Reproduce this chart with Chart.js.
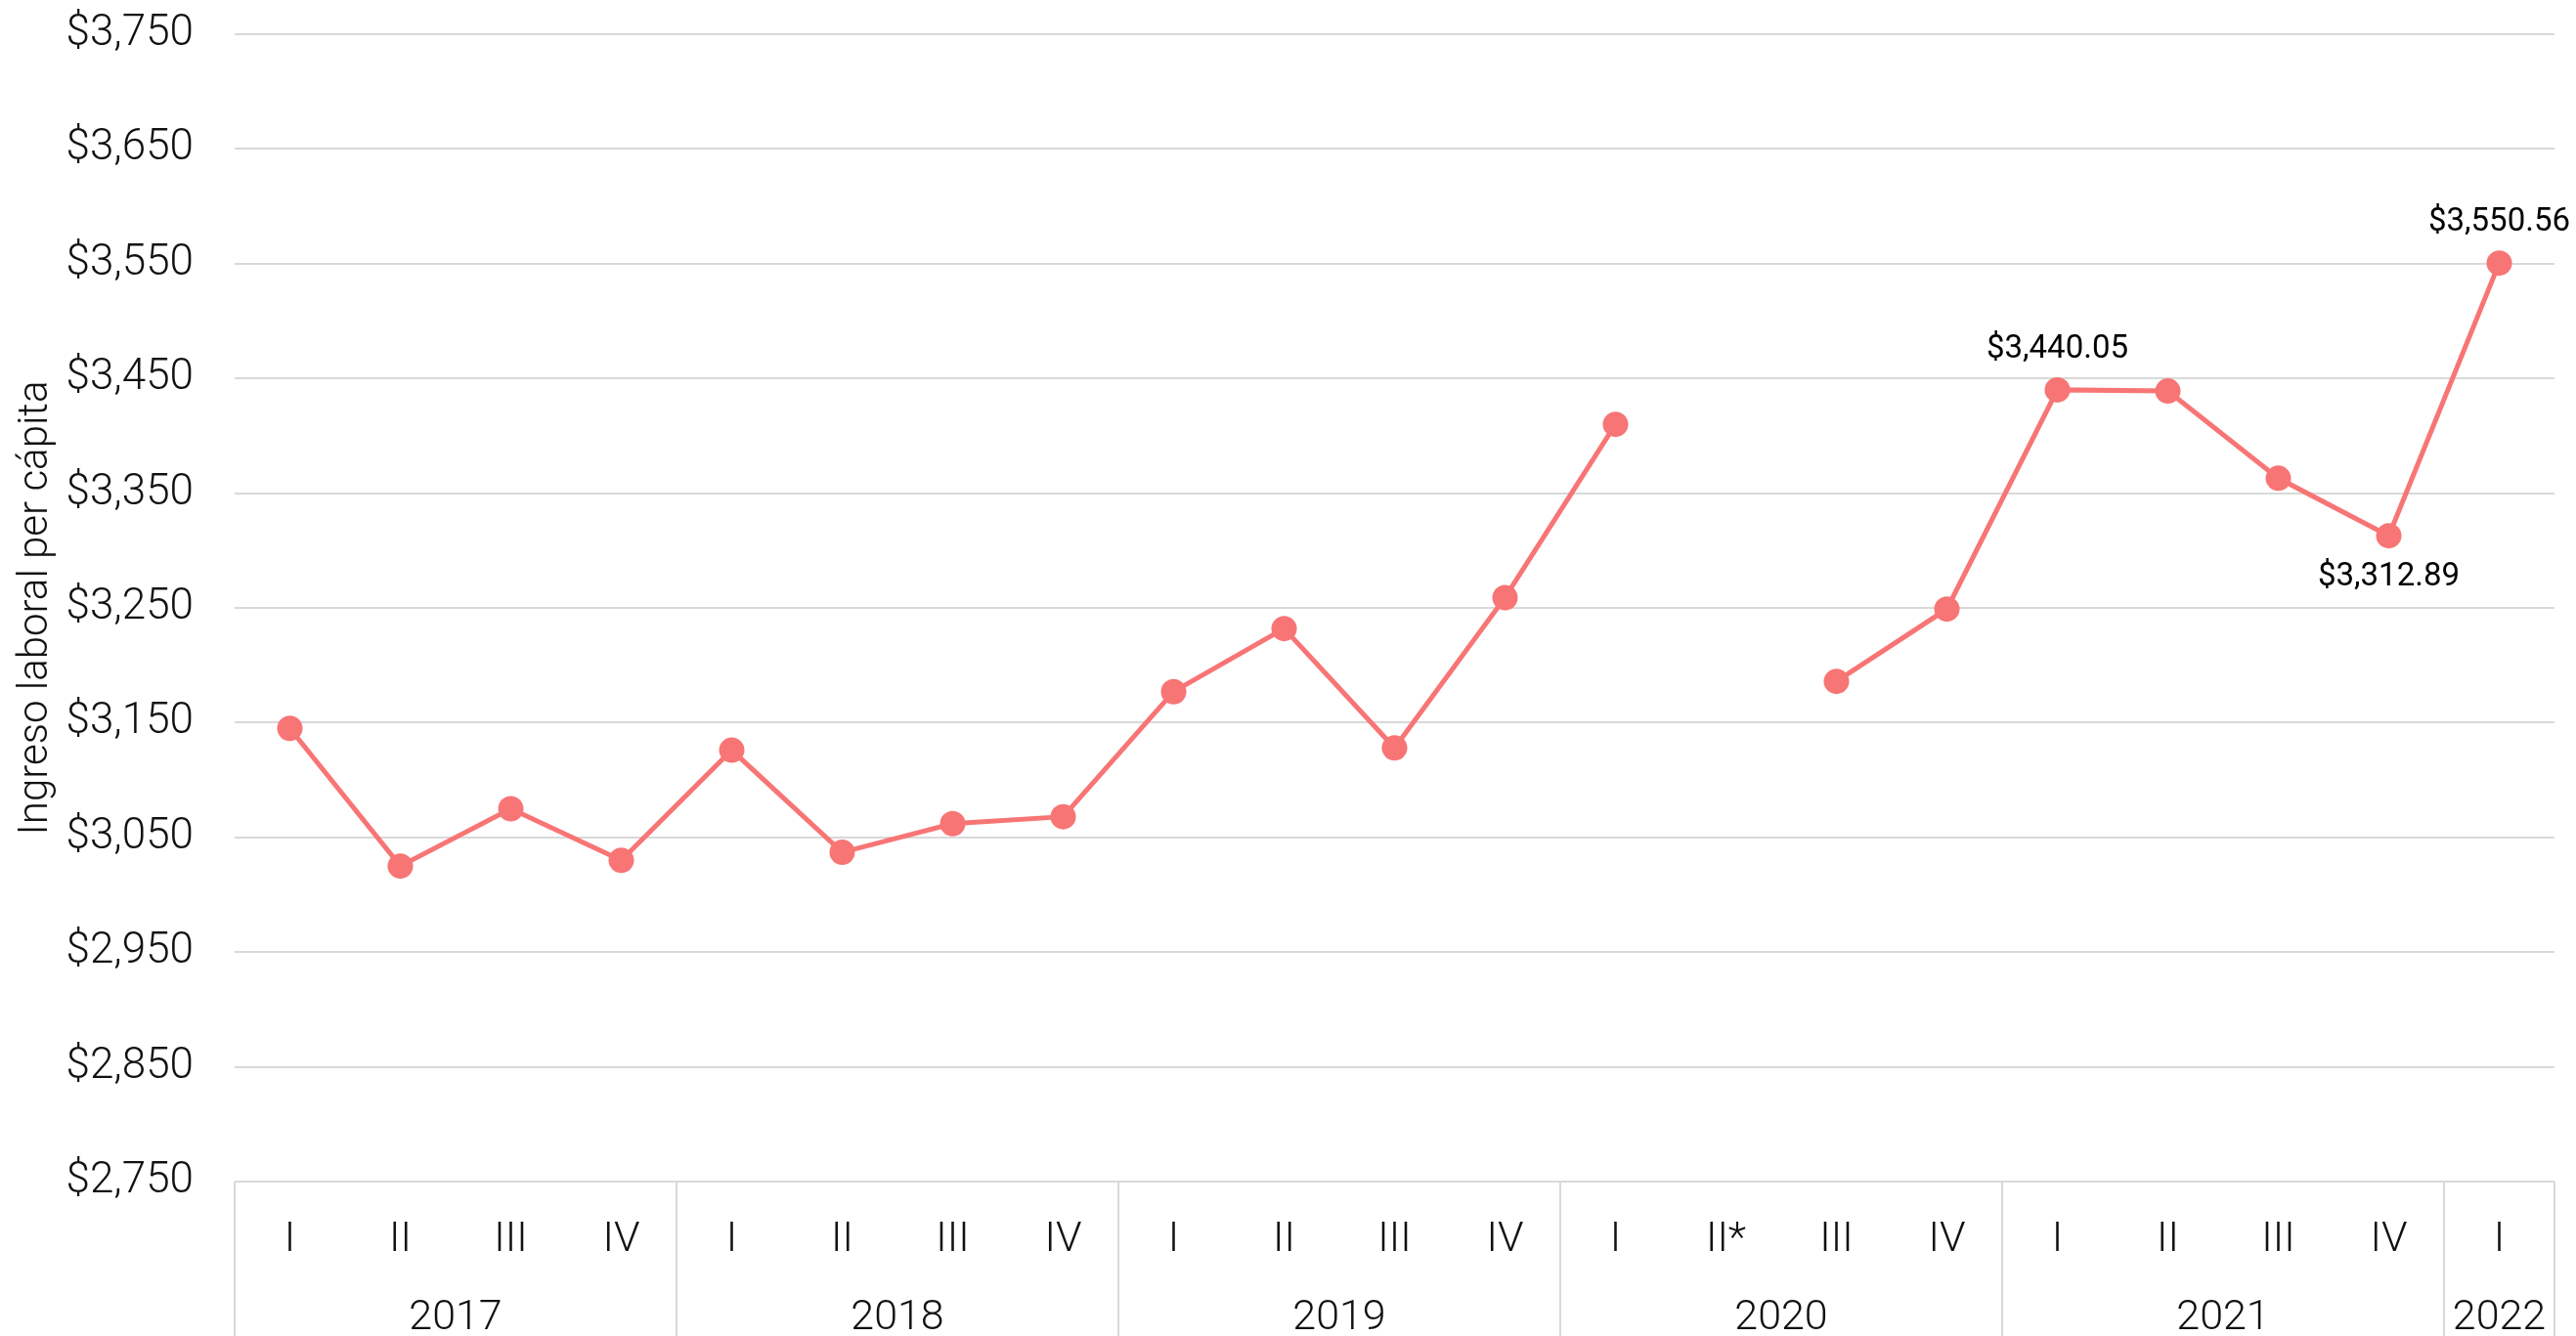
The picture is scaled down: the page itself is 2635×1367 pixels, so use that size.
<!DOCTYPE html>
<html>
<head>
<meta charset="utf-8">
<title>Ingreso laboral per cápita</title>
<script src="https://cdn.jsdelivr.net/npm/chart.js@4.4.0/dist/chart.umd.min.js"></script>
<style>
  html, body { margin: 0; padding: 0; background: #fff; }
  #wrap { width: 2635px; height: 1367px; }
</style>
</head>
<body>
<div id="wrap"><canvas id="grafico" width="2635" height="1367"></canvas></div>
<script>
// datos trimestrales
const trimestres = ['I', 'II', 'III', 'IV', 'I', 'II', 'III', 'IV', 'I', 'II', 'III', 'IV', 'I', 'II*', 'III', 'IV', 'I', 'II', 'III', 'IV', 'I'];
const anios = ['2017', '2018', '2019', '2020', '2021', '2022'];
const trimestresPorAnio = [4, 4, 4, 4, 4, 1];
const ingreso = [3145, 3025, 3075, 3030, 3126, 3037, 3062, 3068, 3177, 3232, 3128, 3259, 3410, null, 3186, 3249, 3440.05, 3439, 3363, 3312.89, 3550.56];
const etiquetados = [16, 19, 20];      // puntos con valor escrito
const etiquetaAbajo = [19];            // estos van debajo del punto
const yMin = 2750, yMax = 3750, yPaso = 100;

const colorLinea = '#f87575';
const colorGrid = '#d9d9d9';
const colorTexto = '#111';

const aniosPlugin = {
    id: 'anios',
    afterDraw(chart) {
        const ctx = chart.ctx;
        const x = chart.scales.x;
        const area = chart.chartArea;
        const mitad = (x.getPixelForValue(1) - x.getPixelForValue(0)) / 2;
        ctx.save();
        ctx.strokeStyle = colorGrid;
        ctx.lineWidth = 2;
        ctx.fillStyle = colorTexto;
        ctx.font = '300 43px Roboto';
        ctx.textAlign = 'center';
        ctx.textBaseline = 'middle';
        let i = 0;
        trimestresPorAnio.forEach(function (n, k) {
            const izq = x.getPixelForValue(i) - mitad;
            const der = x.getPixelForValue(i + n - 1) + mitad;
            [izq, der].forEach(function (px) {
                ctx.beginPath();
                ctx.moveTo(px, area.bottom);
                ctx.lineTo(px, chart.height);
                ctx.stroke();
            });
            ctx.fillText(anios[k], (izq + der) / 2, chart.height - 18);
            i += n;
        });
        ctx.restore();
    }
};

const etiquetasPlugin = {
    id: 'etiquetas',
    afterDatasetsDraw(chart) {
        const ctx = chart.ctx;
        const meta = chart.getDatasetMeta(0);
        ctx.save();
        ctx.fillStyle = '#000';
        ctx.font = '400 33px Roboto';
        ctx.textAlign = 'center';
        ctx.textBaseline = 'middle';
        etiquetados.forEach(function (i) {
            const p = meta.data[i];
            const v = ingreso[i];
            const txt = '$' + v.toLocaleString('en-US', { minimumFractionDigits: 2, maximumFractionDigits: 2 });
            const dy = etiquetaAbajo.includes(i) ? 43 : -41;
            ctx.fillText(txt, p.x, p.y + dy);
        });
        ctx.restore();
    }
};

const ctx = document.getElementById('grafico').getContext('2d');
const grafico = new Chart(ctx, {
    type: 'line',
    data: {
        labels: trimestres,
        datasets: [{
            label: 'Ingreso laboral per cápita',
            data: ingreso,
            borderColor: colorLinea,
            backgroundColor: colorLinea,
            borderWidth: 5,
            pointRadius: 13,
            pointHoverRadius: 13,
            pointBorderWidth: 0,
            pointBackgroundColor: colorLinea,
            tension: 0,
            spanGaps: false
        }]
    },
    options: {
        responsive: false,
        animation: false,
        layout: { padding: { top: 35, right: 22, left: 0, bottom: 0 } },
        plugins: {
            legend: { display: false },
            tooltip: { enabled: false }
        },
        scales: {
            x: {
                offset: true,
                grid: { display: false, drawTicks: false },
                border: { display: false },
                ticks: {
                    color: colorTexto,
                    font: { family: 'Roboto', size: 43, weight: '300' },
                    padding: 34,
                    maxRotation: 0,
                    autoSkip: false
                },
                afterFit: function (scale) {
                    scale.height = 158;
                    scale.paddingLeft = 0;
                    scale.paddingRight = 0;
                }
            },
            y: {
                min: yMin,
                max: yMax,
                grid: { color: colorGrid, lineWidth: 2, drawTicks: false },
                border: { display: false },
                ticks: {
                    stepSize: yPaso,
                    color: colorTexto,
                    font: { family: 'Roboto', size: 44, weight: '300' },
                    padding: 42,
                    callback: function (v) { return '$' + v.toLocaleString('en-US'); }
                },
                title: {
                    display: true,
                    text: 'Ingreso laboral per cápita',
                    color: colorTexto,
                    font: { family: 'Roboto', size: 42, weight: '300' },
                    padding: { top: 12, bottom: 0 }
                },
                afterFit: function (scale) {
                    scale.width = 240;
                    scale.paddingTop = 0;
                    scale.paddingBottom = 0;
                }
            }
        }
    },
    plugins: [aniosPlugin, etiquetasPlugin]
});
</script>
</body>
</html>
